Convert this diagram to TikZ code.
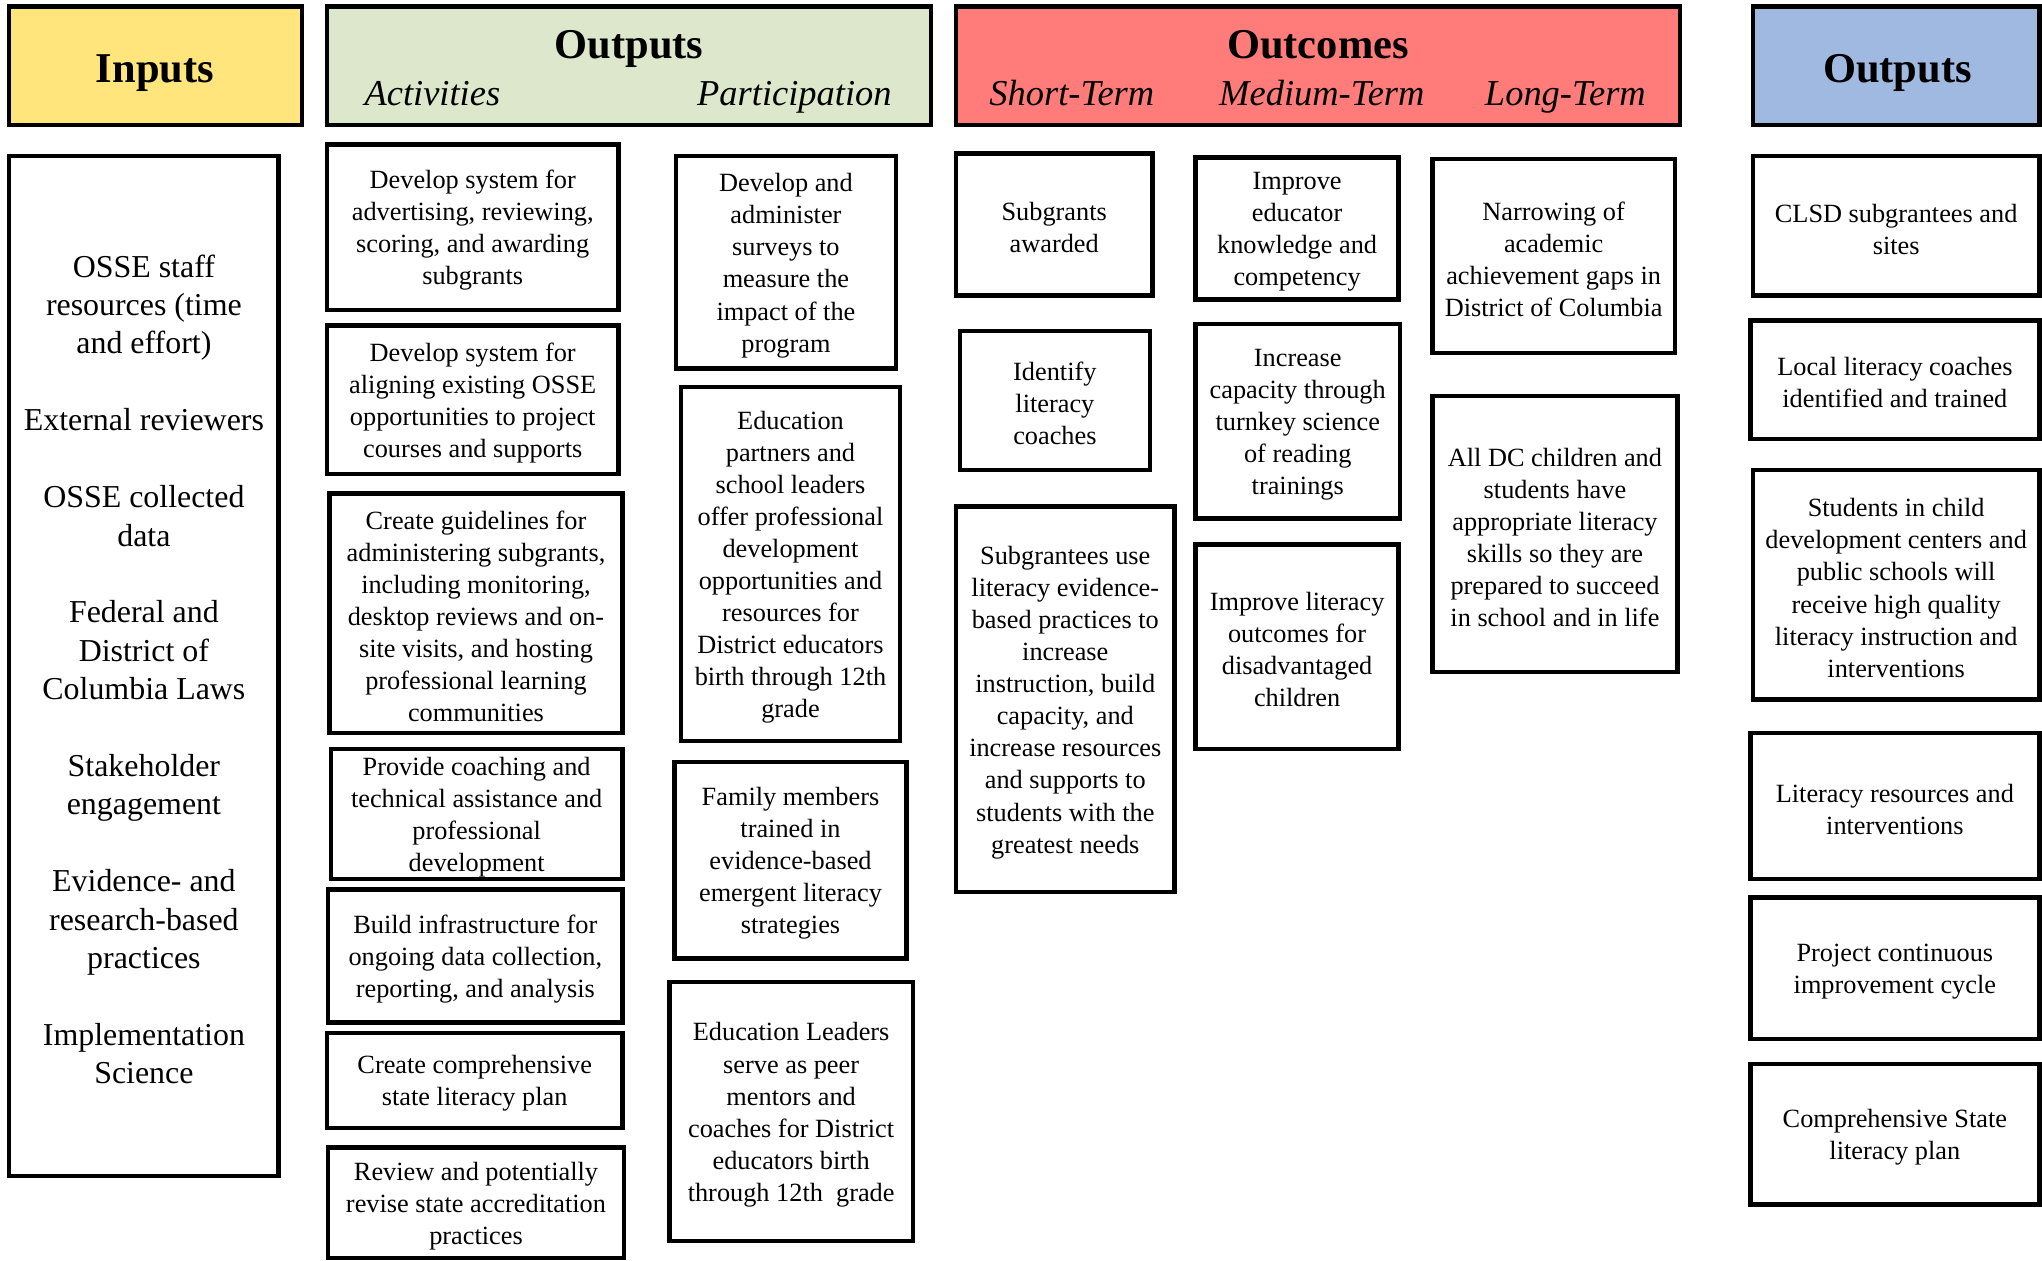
\documentclass[tikz,border=0pt]{standalone}
\usepackage{fontspec}
\setmainfont{Liberation Serif}
\definecolor{inyellow}{HTML}{FFE57B}
\definecolor{outgreen}{HTML}{DDE7CB}
\definecolor{outcred}{HTML}{FF7C7A}
\definecolor{outblue}{HTML}{A0B9E0}
\newcommand\bodyf{\fontsize{10.1}{12.3}\selectfont}
\newcommand\inpf{\fontsize{12.25}{14.75}\selectfont}
\newcommand\headf{\fontsize{16.3}{19}\selectfont\bfseries}
\newcommand\subf{\fontsize{14}{16}\selectfont\itshape}
% \lmbox[style]{name}{x1}{y1}{x2}{y2}{text}
\newcommand\lmbox[7][box]{%
  \node[#1, minimum width={(#5-#3)*0.5pt}, minimum height={(#6-#4)*0.5pt}] (#2) at ({(#3+#5)/2},{(#4+#6)/2}) {};
  \node[#1, draw=none, fill=none] (#2-t) at ({(#3+#5)/2},{(#4+#6)/2+2.5}) {#7};}
\begin{document}
\begin{tikzpicture}[x=0.5pt,y=-0.5pt,
  box/.style={draw, line width=1.7pt, align=center, inner sep=0pt, font=\bodyf},
  inbox/.style={box, font=\inpf},
  hdr/.style={draw, line width=1.7pt, inner sep=0pt},
  title/.style={anchor=base, inner sep=0pt, font=\headf},
  sub/.style={anchor=base, inner sep=0pt, font=\subf}]
\useasboundingbox (0,0) rectangle (1568,968);
\fill[white] (0,0) rectangle (1568,968);

% header boxes
\lmbox[hdr, fill=inyellow]{hIn}{7}{5}{232}{96}{}
\lmbox[hdr, fill=outgreen]{hOut}{251}{5}{715}{96}{}
\lmbox[hdr, fill=outcred]{hOutc}{734}{5}{1290}{96}{}
\lmbox[hdr, fill=outblue]{hOut2}{1346}{5}{1566}{96}{}
\node[title] (tIn) at (119,63) {Inputs};
\node[title] (tOut) at (483,45) {Outputs};
\node[sub] (tAct) at (332,81) {Activities};
\node[sub] (tPart) at (610,81) {Participation};
\node[title] (tOutc) at (1012,45) {Outcomes};
\node[sub] (tShort) at (823,81) {Short-Term};
\node[sub] (tMed) at (1015,81) {Medium-Term};
\node[sub] (tLong) at (1202,81) {Long-Term};
\node[title] (tOut2) at (1457,63) {Outputs};

% inputs
\lmbox[inbox]{inputs}{7}{120}{214}{903}{OSSE staff\\resources (time\\and effort)\\[14.75pt]External reviewers\\[14.75pt]OSSE collected\\data\\[14.75pt]Federal and\\District of\\Columbia Laws\\[14.75pt]Stakeholder\\engagement\\[14.75pt]Evidence- and\\research-based\\practices\\[14.75pt]Implementation\\Science}

% activities
\lmbox{a1}{251}{111}{475}{238}{Develop system for\\advertising, reviewing,\\scoring, and awarding\\subgrants}
\lmbox{a2}{251}{250}{475}{364}{Develop system for\\aligning existing OSSE\\opportunities to project\\courses and supports}
\lmbox{a3}{253}{379}{478}{563}{Create guidelines for\\administering subgrants,\\including monitoring,\\desktop reviews and on-\\site visits, and hosting\\professional learning\\communities}
\lmbox{a4}{254}{575}{478}{675}{Provide coaching and\\technical assistance and\\professional\\development}
\lmbox{a5}{252}{683}{478}{785}{Build infrastructure for\\ongoing data collection,\\reporting, and analysis}
\lmbox{a6}{251}{793}{478}{866}{Create comprehensive\\state literacy plan}
\lmbox{a7}{252}{881}{479}{966}{Review and potentially\\revise state accreditation\\practices}

% participation
\lmbox{p1}{519}{120}{688}{283}{Develop and\\administer\\surveys to\\measure the\\impact of the\\program}
\lmbox{p2}{523}{297}{691}{569}{Education\\partners and\\school leaders\\offer professional\\development\\opportunities and\\resources for\\District educators\\birth through 12th\\grade}
\lmbox{p3}{518}{585}{696}{736}{Family members\\trained in\\evidence-based\\emergent literacy\\strategies}
\lmbox{p4}{514}{754}{701}{953}{Education Leaders\\serve as peer\\mentors and\\coaches for District\\educators birth\\through 12th~ grade}

% short-term
\lmbox{s1}{734}{118}{885}{227}{Subgrants\\awarded}
\lmbox{s2}{737}{254}{883}{361}{Identify\\literacy\\coaches}
\lmbox{s3}{734}{389}{902}{685}{Subgrantees use\\literacy evidence-\\based practices to\\increase\\instruction, build\\capacity, and\\increase resources\\and supports to\\students with the\\greatest needs}

% medium-term
\lmbox{m1}{918}{121}{1074}{230}{Improve\\educator\\knowledge and\\competency}
\lmbox{m2}{918}{249}{1075}{398}{Increase\\capacity through\\turnkey science\\of reading\\trainings}
\lmbox{m3}{918}{418}{1074}{575}{Improve literacy\\outcomes for\\disadvantaged\\children}

% long-term
\lmbox{l1}{1100}{122}{1286}{271}{Narrowing of\\academic\\achievement gaps in\\District of Columbia}
\lmbox{l2}{1100}{304}{1288}{516}{All DC children and\\students have\\appropriate literacy\\skills so they are\\prepared to succeed\\in school and in life}

% outputs (right)
\lmbox{o1}{1346}{120}{1566}{227}{CLSD subgrantees and\\sites}
\lmbox{o2}{1344}{246}{1566}{337}{Local literacy coaches\\identified and trained}
\lmbox{o3}{1346}{361}{1566}{537}{Students in child\\development centers and\\public schools will\\receive high quality\\literacy instruction and\\interventions}
\lmbox{o4}{1344}{563}{1566}{675}{Literacy resources and\\interventions}
\lmbox{o5}{1344}{689}{1566}{798}{Project continuous\\improvement cycle}
\lmbox{o6}{1344}{817}{1566}{925}{Comprehensive State\\literacy plan}
\end{tikzpicture}
\end{document}
